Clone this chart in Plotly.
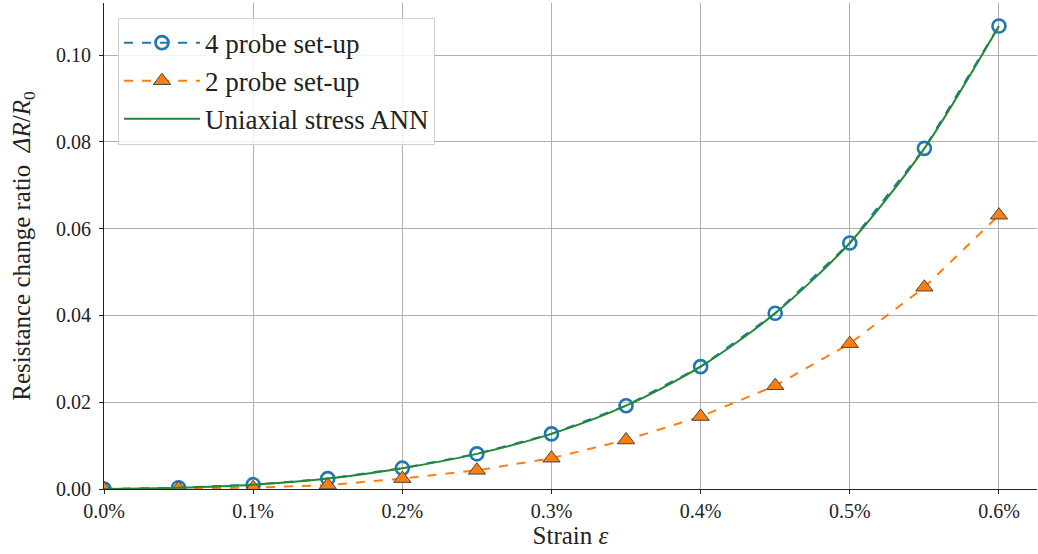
import plotly.graph_objects as go

strain = [0.0, 0.05, 0.1, 0.15, 0.2, 0.25, 0.3, 0.35, 0.4, 0.45, 0.5, 0.55, 0.6]
four_probe = [0.0, 0.0003, 0.0010, 0.0024, 0.0048, 0.0081, 0.0127, 0.0192, 0.0282, 0.0405, 0.0567, 0.0785, 0.1067]
two_probe = [0.0, 0.0001, 0.0003, 0.0009, 0.0024, 0.0043, 0.0071, 0.0113, 0.0167, 0.0238, 0.0335, 0.0465, 0.0631]
ann = four_probe

x_ticks = [0.0, 0.1, 0.2, 0.3, 0.4, 0.5, 0.6]
x_tick_labels = ["0.0%", "0.1%", "0.2%", "0.3%", "0.4%", "0.5%", "0.6%"]
y_ticks = [0.0, 0.02, 0.04, 0.06, 0.08, 0.10]
y_tick_labels = ["0.00", "0.02", "0.04", "0.06", "0.08", "0.10"]

FONT = "Times New Roman"
BLUE = "#1f77b4"
ORANGE = "#ff7f0e"
GREEN = "#228833"

fig = go.Figure()
fig.add_trace(go.Scatter(
    x=strain, y=four_probe, mode="lines+markers", name="4 probe set-up",
    line=dict(color=BLUE, width=2, dash="dash"),
    marker=dict(symbol="circle-open", size=13, color=BLUE, line=dict(width=2.6, color=BLUE)),
))
fig.add_trace(go.Scatter(
    x=strain, y=two_probe, mode="lines+markers", name="2 probe set-up",
    line=dict(color=ORANGE, width=2, dash="dash"),
    marker=dict(symbol="triangle-up", size=15, color=ORANGE, line=dict(width=1, color="#444444")),
))
fig.add_trace(go.Scatter(
    x=strain, y=ann, mode="lines", name="Uniaxial stress ANN",
    line=dict(color=GREEN, width=2, shape="spline", smoothing=0.8),
))

fig.update_layout(
    width=1038, height=554,
    margin=dict(l=104, r=1, t=3, b=65),
    paper_bgcolor="white", plot_bgcolor="white",
    font=dict(family=FONT, size=20, color="#222222"),
    showlegend=True,
    legend=dict(
        x=0.015, y=0.97, xanchor="left", yanchor="top",
        bgcolor="rgba(255,255,255,0.85)", bordercolor="#d0d0d0", borderwidth=1,
        font=dict(family=FONT, size=27, color="#222222"),
        tracegroupgap=4, itemwidth=76,
    ),
    xaxis=dict(
        range=[0, 0.6255], tickvals=x_ticks, ticktext=x_tick_labels,
        showgrid=True, gridcolor="#b0b0b0", gridwidth=1,
        showline=True, linecolor="#222222", linewidth=1.2,
        ticks="outside", ticklen=4, tickcolor="#222222",
        zeroline=False,
        title=dict(text="Strain <i>ε</i>", font=dict(family=FONT, size=25), standoff=4),
        tickfont=dict(family=FONT, size=20),
    ),
    yaxis=dict(
        range=[0, 0.112], tickvals=y_ticks, ticktext=y_tick_labels,
        showgrid=True, gridcolor="#b0b0b0", gridwidth=1,
        showline=True, linecolor="#222222", linewidth=1.2,
        ticks="outside", ticklen=4, tickcolor="#222222",
        ticklabelstandoff=4,
        zeroline=False,
        title=dict(text="Resistance change ratio  <i>ΔR</i>/<i>R</i><sub>0</sub>", font=dict(family=FONT, size=25), standoff=18),
        tickfont=dict(family=FONT, size=20),
    ),
)

fig.write_html("out.html")
